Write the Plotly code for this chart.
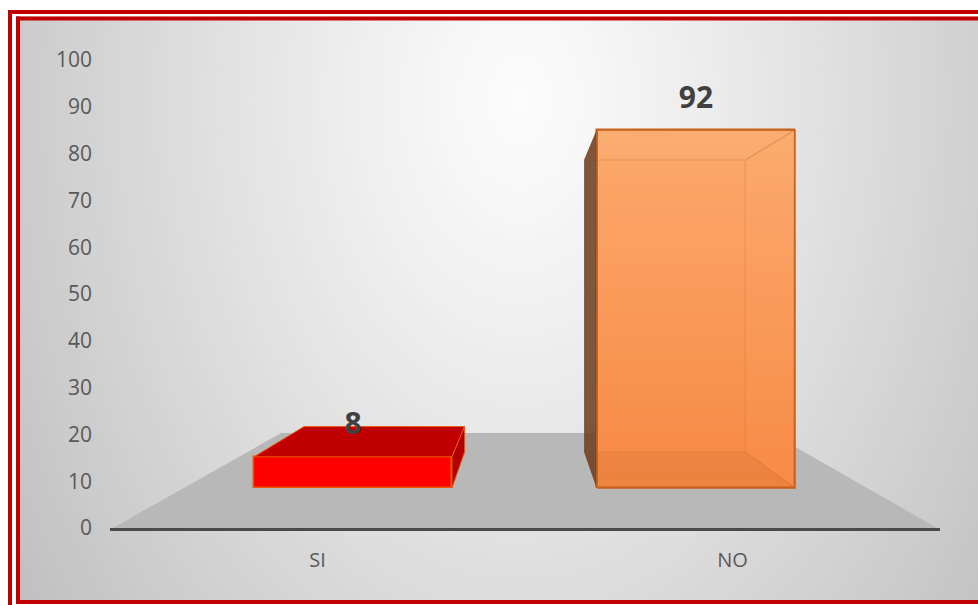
import plotly.graph_objects as go

# ---- data ----
categories = ["SI", "NO"]
values = [8, 92]
y_ticks = list(range(0, 101, 10))

# ---- pseudo-3D projection (axis units) ----
PL, PR, PT, PB = 110, 940, 60, 528          # plot box in pixels
centres_front = [0.0855, 0.912]
centres_back = [0.161, 0.837]
width_front, width_back = 0.477, 0.387
base_front, base_back = 8.55, 16.24
scale_front, scale_back = 0.8315, 0.678
label_gap = 6.4


def px(x):
    return (x - PL) / (PR - PL)


def py(y):
    return (PB - y) / (PB - PT)


shapes = []


def prect(x0, y0, x1, y1, color, layer="below"):
    shapes.append(dict(type="rect", xref="paper", yref="paper", x0=px(x0), x1=px(x1),
                       y0=py(y0), y1=py(y1), fillcolor=color, line_width=0, layer=layer))


# background: soft radial glow
STEPS = 90
CX, CY, RX, RY = 520, 100, 590, 855
prect(-5, -5, 985, 610, "rgb(190,190,190)")
for i in range(STEPS):
    r = 1.2 * (1 - i / STEPS)
    g = round(252 - 58 * r ** 1.15)
    shapes.append(dict(type="circle", xref="paper", yref="paper",
                       x0=px(CX - RX * r), x1=px(CX + RX * r),
                       y0=py(CY + RY * r), y1=py(CY - RY * r),
                       fillcolor=f"rgb({g},{g},{g})", line_width=0, layer="below"))

# frame
RED = "#c00000"
for a, b, c, d in [(-5, -5, 985, 10), (-5, 604, 985, 610), (-5, -5, 8, 610)]:
    prect(a, b, c, d, "white")
# outer red
prect(8, 10, 985, 14, RED)
prect(8, 10, 12, 610, RED)
# white gap
prect(12, 14, 985, 16.5, "white")
prect(12, 14, 16, 610, "white")
# inner red
prect(16, 16.5, 985, 20.5, RED)
prect(16, 16.5, 20, 604, RED)
prect(16, 600, 985, 604, RED)

# floor
shapes.append(dict(type="path", xref="paper", yref="paper", layer="below", line_width=0,
                   fillcolor="#b8b8b8",
                   path=f"M{px(112)},{py(528.5)} L{px(938)},{py(528.5)} L{px(771)},{py(433)} L{px(281)},{py(433)} Z"))

fig = go.Figure()


def top_front(i):
    return base_front + scale_front * values[i]


def top_back(i):
    return base_back + scale_back * values[i]


def xs(i, where):
    c, w = (centres_front[i], width_front) if where == "f" else (centres_back[i], width_back)
    return c - w / 2, c + w / 2


def poly(x, y, fill, line=None, lw=1):
    fig.add_trace(go.Scatter(x=x, y=y, mode="lines", fill="toself", fillcolor=fill,
                             line=dict(color=line or "rgba(0,0,0,0)", width=lw),
                             hoverinfo="skip", showlegend=False))


# front faces from the values
fig.add_trace(go.Bar(x=centres_front, y=[scale_front * v for v in values], base=base_front,
                     width=width_front,
                     marker=dict(color=["#ff0000", "rgb(248,136,66)"],
                                 line=dict(color=["#e8590c", "#c8611c"], width=1.5)),
                     hoverinfo="skip", showlegend=False))

# SI: top and right faces
fl, fr = xs(0, "f")
bl, br = xs(0, "b")
poly([fl, fr, br, bl, fl], [top_front(0), top_front(0), top_back(0), top_back(0), top_front(0)],
     "#c00000", "#e8590c", 1)
poly([fr, br, br, fr, fr], [top_front(0), top_back(0), base_back, base_front, top_front(0)],
     "#b00000", "#e8590c", 1)

# NO: brighter upper part of the translucent front face
fl, fr = xs(1, "f")
bl, br = xs(1, "b")
BANDS = 40
for k in range(BANDS):
    h0 = base_front + scale_front * values[1] * k / BANDS
    h1 = base_front + scale_front * values[1] * (k + 1) / BANDS
    a = 0.45 * (k + 1) / BANDS
    poly([fl, fr, fr, fl, fl], [h0, h0, h1, h1, h0], f"rgba(255,212,165,{a:.3f})")
# faint floor edge showing through
poly([fl, fr, br, bl, fl], [base_front, base_front, base_back, base_back, base_front],
     "rgba(170,90,40,0.12)", "rgba(190,95,30,0.22)", 1)
# top face and right wall inside
poly([fl, fr, br, bl, fl], [top_front(1), top_front(1), top_back(1), top_back(1), top_front(1)],
     "rgba(255,190,130,0.12)", "rgba(200,105,40,0.35)", 1)
poly([br, fr, fr, br, br], [top_back(1), top_front(1), base_front, base_back, top_back(1)],
     "rgba(255,190,130,0.06)", "rgba(205,110,45,0.35)", 1)
# left wall
poly([bl, fl, fl, bl, bl], [top_back(1), top_front(1), base_front, base_back, top_back(1)],
     "rgba(110,65,35,0.88)", "rgba(120,60,20,0.7)", 1)
# front outline on top
poly([fl, fr, fr, fl, fl], [base_front, base_front, top_front(1), top_front(1), base_front],
     "rgba(0,0,0,0)", "#c8611c", 1.5)

fig.update_traces(cliponaxis=False, selector=dict(type="scatter"))

# value labels
fig.add_trace(go.Scatter(x=centres_front, y=[top_front(i) + label_gap for i in range(2)],
                         mode="text", text=[str(v) for v in values],
                         textposition="middle center",
                         textfont=dict(family="Open Sans", size=30, color="#404040"),
                         texttemplate="<b>%{text}</b>",
                         hoverinfo="skip", showlegend=False, cliponaxis=False))

fig.update_layout(
    width=978, height=605, autosize=False,
    margin=dict(l=PL, r=978 - PR, t=PT, b=605 - PB, pad=0),
    paper_bgcolor="white", plot_bgcolor="rgba(0,0,0,0)",
    font=dict(family="Open Sans", color="#595959", size=20),
    shapes=shapes, showlegend=False, bargap=0,
    xaxis=dict(range=[-0.5, 1.5], tickmode="array", tickvals=[0, 1], ticktext=categories,
               showgrid=False, zeroline=False, showline=True, linecolor="#4a4a4a", linewidth=3,
               ticks="", ticklabelstandoff=12, fixedrange=True),
    yaxis=dict(range=[0, 100], tickmode="array", tickvals=y_ticks, showgrid=False, zeroline=False,
               showline=False, ticks="", ticklabelstandoff=17, fixedrange=True,
               tickfont=dict(size=21)),
)

fig.write_html("out.html", config=dict(displayModeBar=False),
               post_script="document.body.style.margin='0';document.body.style.overflow='hidden';")
